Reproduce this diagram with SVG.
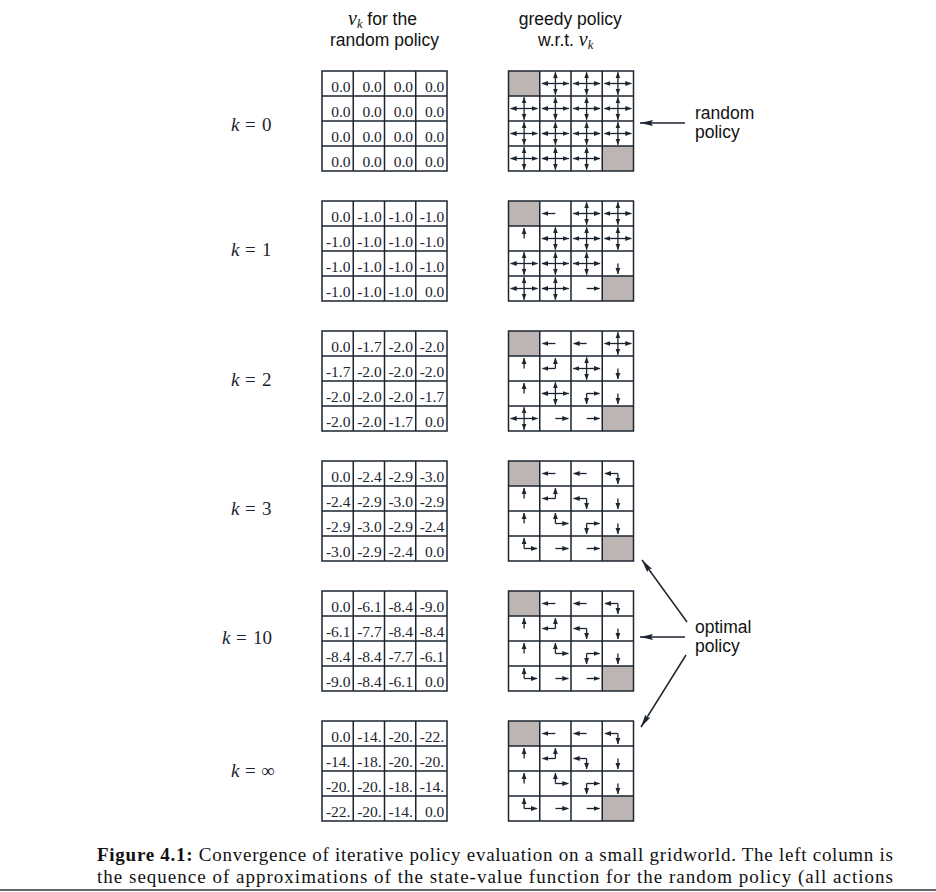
<svg xmlns="http://www.w3.org/2000/svg" xmlns:xlink="http://www.w3.org/1999/xlink" width="936" height="892" viewBox="0 0 936 892">
<style>
.gl{fill:none;stroke:#1c2530;stroke-width:1.5}
.tm{fill:#bdb5b3}
.v{font-family:"Liberation Serif",serif;font-size:15.5px;fill:#1c2530;text-anchor:end}
.a line{stroke:#1c2530;stroke-width:1.3;fill:none}
.hd{font-family:"Liberation Sans",Arial,sans-serif;font-size:17.5px;fill:#111}
.mi{font-family:"Liberation Serif",serif;font-style:italic}
.kl{font-family:"Liberation Serif",serif;font-size:19px;fill:#1c2530}
.cap{font-family:"Liberation Serif",serif;font-size:19px;fill:#111}
.con line{stroke:#1c2530;stroke-width:1.5}
</style>
<defs>
<marker id="ah" viewBox="0 0 8 6" refX="7.5" refY="3" markerWidth="6.5" markerHeight="5.4" orient="auto-start-reverse" markerUnits="userSpaceOnUse"><path d="M0,0 L8,3 L0,6 z" fill="#1c2530"/></marker>
<marker id="bh" viewBox="0 0 13 6" refX="13" refY="3" markerWidth="13" markerHeight="6" orient="auto" markerUnits="userSpaceOnUse"><path d="M0,0 L13,3 L0,6 L2,3 z" fill="#1c2530"/></marker>
<path id="grid" class="gl" d="M0,0H125V100H0Z M31.25,0V100 M62.5,0V100 M93.75,0V100 M0,25H125 M0,50H125 M0,75H125"/>
<g id="L" class="a"><line x1="0" y1="0" x2="-13" y2="0" marker-end="url(#ah)"/></g>
<g id="R" class="a"><line x1="0" y1="0" x2="13" y2="0" marker-end="url(#ah)"/></g>
<g id="U" class="a"><line x1="0" y1="0" x2="0" y2="-10.5" marker-end="url(#ah)"/></g>
<g id="D" class="a"><line x1="0" y1="0" x2="0" y2="10.5" marker-end="url(#ah)"/></g>
<g id="X" class="a"><line x1="-13.5" y1="0" x2="13.5" y2="0" marker-start="url(#ah)" marker-end="url(#ah)"/><line x1="0" y1="-11.2" x2="0" y2="11.2" marker-start="url(#ah)" marker-end="url(#ah)"/></g>
<g id="pT"><rect x="0" y="0" width="31.25" height="25" class="tm"/><rect x="93.75" y="75" width="31.25" height="25" class="tm"/></g>
</defs>
<rect width="936" height="892" fill="#fff"/>

<g id="header">
<text class="hd" x="348" y="25"><tspan class="mi" font-size="20">v</tspan><tspan class="mi" font-size="12.5" dy="2.5">k</tspan><tspan dy="-2.5"> for the</tspan></text>
<text class="hd" x="384.5" y="46" text-anchor="middle">random policy</text>
<text class="hd" x="570.3" y="25" text-anchor="middle">greedy policy</text>
<text class="hd" x="538" y="46">w.r.t. <tspan class="mi" font-size="20">v</tspan><tspan class="mi" font-size="12.5" dy="2.5">k</tspan></text>
</g>

<g id="labels-k">
<text class="kl" y="130.5"><tspan class="mi" x="231">k</tspan><tspan x="245">=</tspan><tspan x="262">0</tspan></text>
<text class="kl" y="255.5"><tspan class="mi" x="231">k</tspan><tspan x="245">=</tspan><tspan x="262">1</tspan></text>
<text class="kl" y="385.5"><tspan class="mi" x="231">k</tspan><tspan x="245">=</tspan><tspan x="262">2</tspan></text>
<text class="kl" y="514.5"><tspan class="mi" x="231">k</tspan><tspan x="245">=</tspan><tspan x="262">3</tspan></text>
<text class="kl" y="643.5"><tspan class="mi" x="222">k</tspan><tspan x="236">=</tspan><tspan x="253">10</tspan></text>
<text class="kl" y="776.5"><tspan class="mi" x="231">k</tspan><tspan x="245">=</tspan><tspan x="261">∞</tspan></text>
</g>

<!-- value grids -->
<g id="values-k0" transform="translate(322,71)">
<use href="#grid"/>
<text class="v" y="21"><tspan x="28.5">0.0</tspan><tspan x="59.75">0.0</tspan><tspan x="91">0.0</tspan><tspan x="122.25">0.0</tspan></text>
<text class="v" y="46"><tspan x="28.5">0.0</tspan><tspan x="59.75">0.0</tspan><tspan x="91">0.0</tspan><tspan x="122.25">0.0</tspan></text>
<text class="v" y="71"><tspan x="28.5">0.0</tspan><tspan x="59.75">0.0</tspan><tspan x="91">0.0</tspan><tspan x="122.25">0.0</tspan></text>
<text class="v" y="96"><tspan x="28.5">0.0</tspan><tspan x="59.75">0.0</tspan><tspan x="91">0.0</tspan><tspan x="122.25">0.0</tspan></text>
</g>
<g id="values-k1" transform="translate(322,201)">
<use href="#grid"/>
<text class="v" y="21"><tspan x="28.5">0.0</tspan><tspan x="59.75">-1.0</tspan><tspan x="91">-1.0</tspan><tspan x="122.25">-1.0</tspan></text>
<text class="v" y="46"><tspan x="28.5">-1.0</tspan><tspan x="59.75">-1.0</tspan><tspan x="91">-1.0</tspan><tspan x="122.25">-1.0</tspan></text>
<text class="v" y="71"><tspan x="28.5">-1.0</tspan><tspan x="59.75">-1.0</tspan><tspan x="91">-1.0</tspan><tspan x="122.25">-1.0</tspan></text>
<text class="v" y="96"><tspan x="28.5">-1.0</tspan><tspan x="59.75">-1.0</tspan><tspan x="91">-1.0</tspan><tspan x="122.25">0.0</tspan></text>
</g>
<g id="values-k2" transform="translate(322,331)">
<use href="#grid"/>
<text class="v" y="21"><tspan x="28.5">0.0</tspan><tspan x="59.75">-1.7</tspan><tspan x="91">-2.0</tspan><tspan x="122.25">-2.0</tspan></text>
<text class="v" y="46"><tspan x="28.5">-1.7</tspan><tspan x="59.75">-2.0</tspan><tspan x="91">-2.0</tspan><tspan x="122.25">-2.0</tspan></text>
<text class="v" y="71"><tspan x="28.5">-2.0</tspan><tspan x="59.75">-2.0</tspan><tspan x="91">-2.0</tspan><tspan x="122.25">-1.7</tspan></text>
<text class="v" y="96"><tspan x="28.5">-2.0</tspan><tspan x="59.75">-2.0</tspan><tspan x="91">-1.7</tspan><tspan x="122.25">0.0</tspan></text>
</g>
<g id="values-k3" transform="translate(322,461)">
<use href="#grid"/>
<text class="v" y="21"><tspan x="28.5">0.0</tspan><tspan x="59.75">-2.4</tspan><tspan x="91">-2.9</tspan><tspan x="122.25">-3.0</tspan></text>
<text class="v" y="46"><tspan x="28.5">-2.4</tspan><tspan x="59.75">-2.9</tspan><tspan x="91">-3.0</tspan><tspan x="122.25">-2.9</tspan></text>
<text class="v" y="71"><tspan x="28.5">-2.9</tspan><tspan x="59.75">-3.0</tspan><tspan x="91">-2.9</tspan><tspan x="122.25">-2.4</tspan></text>
<text class="v" y="96"><tspan x="28.5">-3.0</tspan><tspan x="59.75">-2.9</tspan><tspan x="91">-2.4</tspan><tspan x="122.25">0.0</tspan></text>
</g>
<g id="values-k10" transform="translate(322,591)">
<use href="#grid"/>
<text class="v" y="21"><tspan x="28.5">0.0</tspan><tspan x="59.75">-6.1</tspan><tspan x="91">-8.4</tspan><tspan x="122.25">-9.0</tspan></text>
<text class="v" y="46"><tspan x="28.5">-6.1</tspan><tspan x="59.75">-7.7</tspan><tspan x="91">-8.4</tspan><tspan x="122.25">-8.4</tspan></text>
<text class="v" y="71"><tspan x="28.5">-8.4</tspan><tspan x="59.75">-8.4</tspan><tspan x="91">-7.7</tspan><tspan x="122.25">-6.1</tspan></text>
<text class="v" y="96"><tspan x="28.5">-9.0</tspan><tspan x="59.75">-8.4</tspan><tspan x="91">-6.1</tspan><tspan x="122.25">0.0</tspan></text>
</g>
<g id="values-kinf" transform="translate(322,721)">
<use href="#grid"/>
<text class="v" y="21"><tspan x="28.5">0.0</tspan><tspan x="59.75">-14.</tspan><tspan x="91">-20.</tspan><tspan x="122.25">-22.</tspan></text>
<text class="v" y="46"><tspan x="28.5">-14.</tspan><tspan x="59.75">-18.</tspan><tspan x="91">-20.</tspan><tspan x="122.25">-20.</tspan></text>
<text class="v" y="71"><tspan x="28.5">-20.</tspan><tspan x="59.75">-20.</tspan><tspan x="91">-18.</tspan><tspan x="122.25">-14.</tspan></text>
<text class="v" y="96"><tspan x="28.5">-22.</tspan><tspan x="59.75">-20.</tspan><tspan x="91">-14.</tspan><tspan x="122.25">0.0</tspan></text>
</g>

<!-- policy grids -->
<g id="policy-k0" transform="translate(508.5,71)">
<use href="#pT"/><use href="#grid"/>
<use href="#X" x="46.9" y="12.5"/><use href="#X" x="78.1" y="12.5"/><use href="#X" x="109.4" y="12.5"/>
<use href="#X" x="15.6" y="37.5"/><use href="#X" x="46.9" y="37.5"/><use href="#X" x="78.1" y="37.5"/><use href="#X" x="109.4" y="37.5"/>
<use href="#X" x="15.6" y="62.5"/><use href="#X" x="46.9" y="62.5"/><use href="#X" x="78.1" y="62.5"/><use href="#X" x="109.4" y="62.5"/>
<use href="#X" x="15.6" y="87.5"/><use href="#X" x="46.9" y="87.5"/><use href="#X" x="78.1" y="87.5"/>
</g>
<g id="policy-k1" transform="translate(508.5,201)">
<use href="#pT"/><use href="#grid"/>
<use href="#L" x="46.9" y="12.5"/><use href="#X" x="78.1" y="12.5"/><use href="#X" x="109.4" y="12.5"/>
<use href="#U" x="15.6" y="37.5"/><use href="#X" x="46.9" y="37.5"/><use href="#X" x="78.1" y="37.5"/><use href="#X" x="109.4" y="37.5"/>
<use href="#X" x="15.6" y="62.5"/><use href="#X" x="46.9" y="62.5"/><use href="#X" x="78.1" y="62.5"/><use href="#D" x="109.4" y="62.5"/>
<use href="#X" x="15.6" y="87.5"/><use href="#X" x="46.9" y="87.5"/><use href="#R" x="78.1" y="87.5"/>
</g>
<g id="policy-k2" transform="translate(508.5,331)">
<use href="#pT"/><use href="#grid"/>
<use href="#L" x="46.9" y="12.5"/><use href="#L" x="78.1" y="12.5"/><use href="#X" x="109.4" y="12.5"/>
<use href="#U" x="15.6" y="37.5"/><use href="#L" x="46.9" y="37.5"/><use href="#U" x="46.9" y="37.5"/><use href="#X" x="78.1" y="37.5"/><use href="#D" x="109.4" y="37.5"/>
<use href="#U" x="15.6" y="62.5"/><use href="#X" x="46.9" y="62.5"/><use href="#D" x="78.1" y="62.5"/><use href="#R" x="78.1" y="62.5"/><use href="#D" x="109.4" y="62.5"/>
<use href="#X" x="15.6" y="87.5"/><use href="#R" x="46.9" y="87.5"/><use href="#R" x="78.1" y="87.5"/>
</g>
<g id="policy-k3" transform="translate(508.5,461)">
<use href="#pT"/><use href="#grid"/>
<use href="#L" x="46.9" y="12.5"/><use href="#L" x="78.1" y="12.5"/><use href="#L" x="109.4" y="12.5"/><use href="#D" x="109.4" y="12.5"/>
<use href="#U" x="15.6" y="37.5"/><use href="#L" x="46.9" y="37.5"/><use href="#U" x="46.9" y="37.5"/><use href="#L" x="78.1" y="37.5"/><use href="#D" x="78.1" y="37.5"/><use href="#D" x="109.4" y="37.5"/>
<use href="#U" x="15.6" y="62.5"/><use href="#U" x="46.9" y="62.5"/><use href="#R" x="46.9" y="62.5"/><use href="#D" x="78.1" y="62.5"/><use href="#R" x="78.1" y="62.5"/><use href="#D" x="109.4" y="62.5"/>
<use href="#U" x="15.6" y="87.5"/><use href="#R" x="15.6" y="87.5"/><use href="#R" x="46.9" y="87.5"/><use href="#R" x="78.1" y="87.5"/>
</g>
<g id="policy-k10" transform="translate(508.5,591)">
<use href="#pT"/><use href="#grid"/>
<use href="#L" x="46.9" y="12.5"/><use href="#L" x="78.1" y="12.5"/><use href="#L" x="109.4" y="12.5"/><use href="#D" x="109.4" y="12.5"/>
<use href="#U" x="15.6" y="37.5"/><use href="#L" x="46.9" y="37.5"/><use href="#U" x="46.9" y="37.5"/><use href="#L" x="78.1" y="37.5"/><use href="#D" x="78.1" y="37.5"/><use href="#D" x="109.4" y="37.5"/>
<use href="#U" x="15.6" y="62.5"/><use href="#U" x="46.9" y="62.5"/><use href="#R" x="46.9" y="62.5"/><use href="#D" x="78.1" y="62.5"/><use href="#R" x="78.1" y="62.5"/><use href="#D" x="109.4" y="62.5"/>
<use href="#U" x="15.6" y="87.5"/><use href="#R" x="15.6" y="87.5"/><use href="#R" x="46.9" y="87.5"/><use href="#R" x="78.1" y="87.5"/>
</g>
<g id="policy-kinf" transform="translate(508.5,721)">
<use href="#pT"/><use href="#grid"/>
<use href="#L" x="46.9" y="12.5"/><use href="#L" x="78.1" y="12.5"/><use href="#L" x="109.4" y="12.5"/><use href="#D" x="109.4" y="12.5"/>
<use href="#U" x="15.6" y="37.5"/><use href="#L" x="46.9" y="37.5"/><use href="#U" x="46.9" y="37.5"/><use href="#L" x="78.1" y="37.5"/><use href="#D" x="78.1" y="37.5"/><use href="#D" x="109.4" y="37.5"/>
<use href="#U" x="15.6" y="62.5"/><use href="#U" x="46.9" y="62.5"/><use href="#R" x="46.9" y="62.5"/><use href="#D" x="78.1" y="62.5"/><use href="#R" x="78.1" y="62.5"/><use href="#D" x="109.4" y="62.5"/>
<use href="#U" x="15.6" y="87.5"/><use href="#R" x="15.6" y="87.5"/><use href="#R" x="46.9" y="87.5"/><use href="#R" x="78.1" y="87.5"/>
</g>

<g id="label-random">
<text class="hd" x="695" y="119">random</text>
<text class="hd" x="695" y="137.5">policy</text>
</g>
<g id="label-optimal">
<text class="hd" x="695" y="633">optimal</text>
<text class="hd" x="695" y="651.5">policy</text>
</g>

<g id="connectors" class="con">
<line x1="685" y1="123" x2="640" y2="123" marker-end="url(#bh)"/>
<line x1="687" y1="622" x2="642" y2="560" marker-end="url(#bh)"/>
<line x1="685" y1="637" x2="640" y2="637" marker-end="url(#bh)"/>
<line x1="686" y1="655" x2="641" y2="727" marker-end="url(#bh)"/>
</g>

<g id="caption">
<text class="cap" x="97" y="861" textLength="796" lengthAdjust="spacing"><tspan font-weight="bold">Figure 4.1:</tspan> Convergence of iterative policy evaluation on a small gridworld. The left column is</text>
<text class="cap" x="97" y="883" textLength="796" lengthAdjust="spacing">the sequence of approximations of the state-value function for the random policy (all actions</text>
<line x1="0" y1="890" x2="936" y2="890" stroke="#333" stroke-width="1.5"/>
</g>
</svg>
